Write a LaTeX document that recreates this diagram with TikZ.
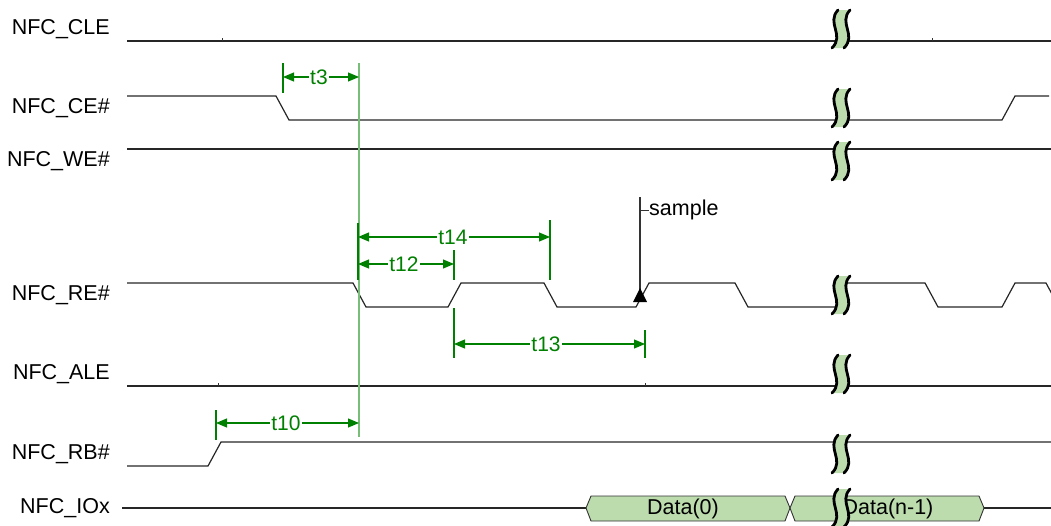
\documentclass[tikz,border=0pt]{standalone}
\usepackage{fontspec}
\setmainfont{Liberation Sans}
\usetikzlibrary{arrows.meta}
\definecolor{tg}{RGB}{0,128,0}
\definecolor{tlg}{RGB}{120,190,120}
\definecolor{brkfill}{RGB}{188,220,174}
\newcommand\tbreak[1]{%
 \begin{scope}[shift={(0,#1)}]
  \fill[brkfill] (838,0) .. controls (826,13) and (845,25) .. (832,38) -- (844,38) .. controls (857,25) and (838,13) .. (850,0) -- cycle;
  \draw[line width=2.8pt,line cap=round] (838,0) .. controls (826,13) and (845,25) .. (832,38);
  \draw[line width=2.8pt,line cap=round] (850,0) .. controls (838,13) and (857,25) .. (844,38);
 \end{scope}}
\begin{document}
\begin{tikzpicture}[x=1pt,y=-1pt,
 sig/.style={draw=black!85,line width=1.2pt,line join=miter},
 lbl/.style={anchor=east,font=\fontsize{21.5}{24}\selectfont,inner sep=0pt},
 meas/.style={draw=tg,line width=1.1pt,{Triangle[length=11pt,width=9pt]}-{Triangle[length=11pt,width=9pt]}},
 mtxt/.style={fill=white,text=tg,font=\fontsize{21}{24}\selectfont,inner sep=1.5pt},
 tck/.style={draw=tg,line width=1.1pt},
 smalltick/.style={draw=black!80,line width=0.8pt},
 databox/.style={fill=brkfill,draw=black!80,line width=0.9pt},
 dtxt/.style={font=\fontsize{21.5}{24}\selectfont,inner sep=0pt},
]
\useasboundingbox (0,0) rectangle (1051,525);

% labels
\node[lbl] (lCLE) at (110,29) {NFC\_CLE};
\node[lbl] (lCE) at (110,108) {NFC\_CE\#};
\node[lbl] (lWE) at (110,161) {NFC\_WE\#};
\node[lbl] (lRE) at (110,295) {NFC\_RE\#};
\node[lbl] (lALE) at (110,374) {NFC\_ALE};
\node[lbl] (lRB) at (110,454) {NFC\_RB\#};
\node[lbl] (lIO) at (110,508) {NFC\_IOx};

% signals
\draw[sig] (127,41) -- (1051,41);
\draw[smalltick] (222,41) -- (222,38) (932,41) -- (932,38);
\draw[sig] (127,96) -- (276,96) -- (289,120) -- (1002,120) -- (1015,96) -- (1049,96);
\draw[sig] (127,149) -- (1051,149);
\draw[sig] (127,283) -- (353,283) -- (366,307) -- (448,307) -- (461,283) -- (544,283) -- (557,307) -- (636,307) -- (649,283) -- (735,283) -- (748,307) -- (838,307) -- (840,283) -- (925,283) -- (938,307) -- (1002,307) -- (1015,283) -- (1046,283) -- (1059,307);
\draw[sig] (127,386) -- (1051,386);
\draw[smalltick] (218,386) -- (218,383) (645,386) -- (645,383);
\draw[sig] (127,466) -- (208,466) -- (221,442) -- (1051,442);

% IOx bus
\coordinate (io0) at (122,508);
\coordinate (io1) at (586,508);
\coordinate (io2) at (984,508);
\coordinate (io3) at (1051,508);
\draw[sig] (io0) -- (io1) (io2) -- (io3);
\draw[databox] (586,508) -- (591,496) -- (785,496) -- (790,508) -- (785,521) -- (591,521) -- cycle;
\draw[databox] (790,508) -- (795,496) -- (979,496) -- (984,508) -- (979,521) -- (795,521) -- cycle;
\node[dtxt] (d0) at (683,509) {Data(0)};
\node[dtxt] (dn) at (888,509) {Data(n-1)};

% breaks
\tbreak{10}
\tbreak{89}
\tbreak{142}
\tbreak{276}
\tbreak{355}
\tbreak{435}
\tbreak{489}

% long reference line
\coordinate (vTop) at (359,63);
\coordinate (vBot) at (359,437);
\draw[draw=tlg,line width=1.4pt] (vTop) -- (vBot);

% t3
\coordinate (t3a) at (283,63); \coordinate (t3b) at (283,93);
\draw[tck] (t3a) -- (t3b);
\coordinate (t3l) at (283,77); \coordinate (t3r) at (359,77);
\draw[meas] (t3l) -- (t3r);
\node[mtxt] (t3) at (319,77) {t3};

% t14 / t12
\coordinate (k1a) at (358,223); \coordinate (k1b) at (358,280);
\draw[tck] (k1a) -- (k1b);
\coordinate (k2a) at (550,220); \coordinate (k2b) at (550,280);
\draw[tck] (k2a) -- (k2b);
\coordinate (k3a) at (454,250); \coordinate (k3b) at (454,280);
\draw[tck] (k3a) -- (k3b);
\coordinate (t14l) at (358,237); \coordinate (t14r) at (550,237);
\draw[meas] (t14l) -- (t14r);
\node[mtxt] (t14) at (453,237) {t14};
\coordinate (t12l) at (358,264); \coordinate (t12r) at (454,264);
\draw[meas] (t12l) -- (t12r);
\node[mtxt] (t12) at (404,264) {t12};

% t13
\coordinate (k4a) at (454,308); \coordinate (k4b) at (454,358);
\draw[tck] (k4a) -- (k4b);
\coordinate (k5a) at (645,330); \coordinate (k5b) at (645,358);
\draw[tck] (k5a) -- (k5b);
\coordinate (t13l) at (454,344); \coordinate (t13r) at (645,344);
\draw[meas] (t13l) -- (t13r);
\node[mtxt] (t13) at (546,344) {t13};

% t10
\coordinate (k6a) at (216,410); \coordinate (k6b) at (216,440);
\draw[tck] (k6a) -- (k6b);
\coordinate (t10l) at (216,423); \coordinate (t10r) at (359,423);
\draw[meas] (t10l) -- (t10r);
\node[mtxt] (t10) at (286,423) {t10};

% sample
\coordinate (sTop) at (640,197);
\coordinate (sBot) at (640,290);
\draw[black!80,line width=1.1pt] (sTop) -- (sBot);
\fill[black] (640,288) -- (633,302) -- (647,302) -- cycle;
\coordinate (sT) at (640,210);
\node[dtxt,anchor=west] (samp) at (649,210) {sample};
\draw[black!80,line width=0.8pt] (sT) -- (samp.west);
\end{tikzpicture}
\end{document}
